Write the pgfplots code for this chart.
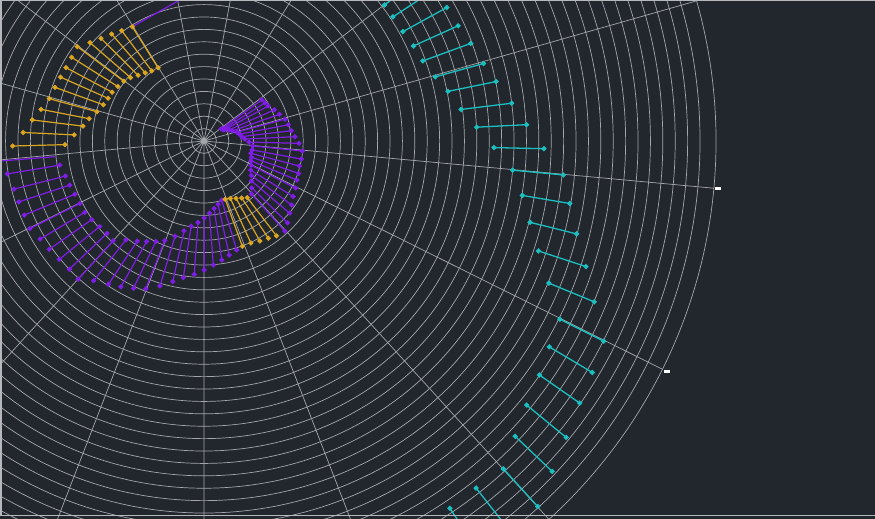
\documentclass[border=0pt]{standalone}
\usepackage{pgfplots}
\pgfplotsset{compat=1.18}
\usepackage{pgfplotstable}
\usepgfplotslibrary{polar}
\definecolor{bg}{HTML}{22272E}
\definecolor{gridc}{HTML}{A4A6AA}
\definecolor{cyanS}{HTML}{1BBFC0}
\definecolor{purpS}{HTML}{7F1DE6}
\definecolor{goldS}{HTML}{DAA520}

% each segment: angle (deg), radius; pairs separated by nan rows
\pgfplotstableread{
t r
35.4 21
35.4 71
nan nan
32.0 22
32.0 72
nan nan
28.6 23
28.6 73
nan nan
23.9 27
23.9 77
nan nan
19.5 30
19.5 80
nan nan
15.1 34
15.1 84
nan nan
10.9 36
10.9 86
nan nan
6.7 38
6.7 88
nan nan
2.7 41
2.7 91
nan nan
358.6 45
358.6 95
nan nan
354.2 49
354.2 99
nan nan
349.5 49
349.5 99
nan nan
345.3 48.5
345.3 98.5
nan nan
341.1 50
341.1 100
nan nan
337.2 51
337.2 101
nan nan
332.8 53
332.8 103
nan nan
328.1 55
328.1 105
nan nan
323.9 58.5
323.9 108.5
nan nan
319.9 62
319.9 112
nan nan
315.6 67
315.6 117
nan nan
311.9 71
311.9 121
nan nan
286.7 61.8
286.7 113.8
nan nan
282.5 64.8
282.5 116.8
nan nan
278.5 68.3
278.5 120.3
nan nan
274.3 72.3
274.3 124.3
nan nan
270.1 77
270.1 129
nan nan
265.8 81.7
265.8 133.7
nan nan
261.4 86.2
261.4 138.2
nan nan
257.5 92.1
257.5 144.1
nan nan
253.1 99.5
253.1 151.5
nan nan
248.5 107
248.5 159
nan nan
244.4 111.4
244.4 163.4
nan nan
240.3 115.7
240.3 167.7
nan nan
236.3 120.3
236.3 172.3
nan nan
231.7 126
231.7 178
nan nan
227.7 135
227.7 187
nan nan
223.6 134
223.6 186
nan nan
219.3 135
219.3 187
nan nan
215.0 137
215.0 189
nan nan
210.9 139
210.9 191
nan nan
206.7 139
206.7 195
nan nan
202.4 139.6
202.4 194.5
nan nan
198.2 141.3
198.2 195
nan nan
194.2 143
194.2 196
nan nan
189.5 146.2
189.5 199.4
}\purpledata

\pgfplotstableread{
t r
307.4 71.3
307.4 119.4
nan nan
303.5 68.3
303.5 116.6
nan nan
299.2 65.6
299.2 114.6
nan nan
294.7 63.3
294.7 112.3
nan nan
290.0 62
290.0 112
nan nan
181.5 139
181.5 191.4
nan nan
177.3 130
177.3 181
nan nan
173.0 122
173.0 173
nan nan
169.0 117
169.0 166
nan nan
164.7 111
164.7 160.4
nan nan
160.2 107
160.2 158.4
nan nan
156.0 105
156.0 157
nan nan
152.0 104
152.0 156.3
nan nan
147.7 102
147.7 156.6
nan nan
143.3 100
143.3 158
nan nan
139.2 97
139.2 150.5
nan nan
135.1 93
135.1 145.4
nan nan
130.8 90
130.8 141.3
nan nan
126.7 87.4
126.7 137.6
nan nan
122.1 86.4
122.1 134.9
}\golddata

\pgfplotstableread{
t r
37.0 226
37.0 276
nan nan
33.3 226
33.3 276
nan nan
28.8 227
28.8 277
nan nan
24.4 230
24.4 279
nan nan
20.1 233
20.1 284
nan nan
15.5 240
15.5 290
nan nan
11.5 249
11.5 298
nan nan
7.0 259
7.0 310
nan nan
2.9 273
2.9 323
nan nan
358.7 290
358.7 340
nan nan
354.6 310
354.6 361
nan nan
350.3 323
350.3 371
nan nan
346.0 336
346.0 384
nan nan
341.8 352
341.8 402
nan nan
337.6 373
337.6 422
nan nan
333.4 398
333.4 447
nan nan
329.2 402
329.2 452
nan nan
325.1 409
325.1 458
nan nan
320.7 417
320.7 468
nan nan
316.5 429
316.5 480
nan nan
312.4 444
312.4 495
nan nan
308.1 441
308.1 491
nan nan
303.8 442
303.8 492
}\cyandata

\begin{document}
\begin{tikzpicture}
\useasboundingbox (0,0) rectangle (875pt,519pt);
\fill[bg] (0,0) rectangle (875pt,519pt);
\begin{scope}
\clip (0,0) rectangle (875pt,519pt);
\begin{polaraxis}[
  at={(204pt,378pt)}, anchor=center,
  width=1024pt, height=1024pt, scale only axis,
  xmin=0, xmax=360, ymin=0, ymax=512,
  xtick={15.882,37.059,58.235,79.412,100.588,121.765,142.941,164.118,185.294,206.471,227.647,248.824,270,291.176,312.353,333.529,354.706},
  ytick={12.4,24.8,...,500},
  xticklabel={\color{white}\rule{6pt}{2.6pt}},
  xticklabel style={inner sep=1.5pt},
  yticklabels={},
  major tick length=0pt,
  grid=major,
  major grid style={gridc, line width=0.7pt},
  x axis line style={gridc, line width=0.7pt},
  y axis line style={draw=none},
  unbounded coords=jump,
]
\addplot[purpS, line width=1.2pt, no marks] coordinates {(122.1,134.9) (86,161.4)};
\addplot[purpS, line width=1.2pt, no marks] coordinates {(185.5,230) (186.0,149.8)};
\addplot[purpS, line width=1.2pt, mark=*, mark size=1.9pt, mark options={solid}] table[x=t,y=r] {\purpledata};
\addplot[goldS, line width=1.2pt, mark=*, mark size=1.9pt, mark options={solid}] table[x=t,y=r] {\golddata};
\addplot[cyanS, line width=1.3pt, mark=*, mark size=1.9pt, mark options={solid}] table[x=t,y=r] {\cyandata};
\end{polaraxis}
\end{scope}
\draw[gridc!80!white, line width=1.5pt] (875pt,518.25pt) -- (0.75pt,518.25pt) -- (0.75pt,3.5pt) -- (875pt,3.5pt);
\end{tikzpicture}
\end{document}
